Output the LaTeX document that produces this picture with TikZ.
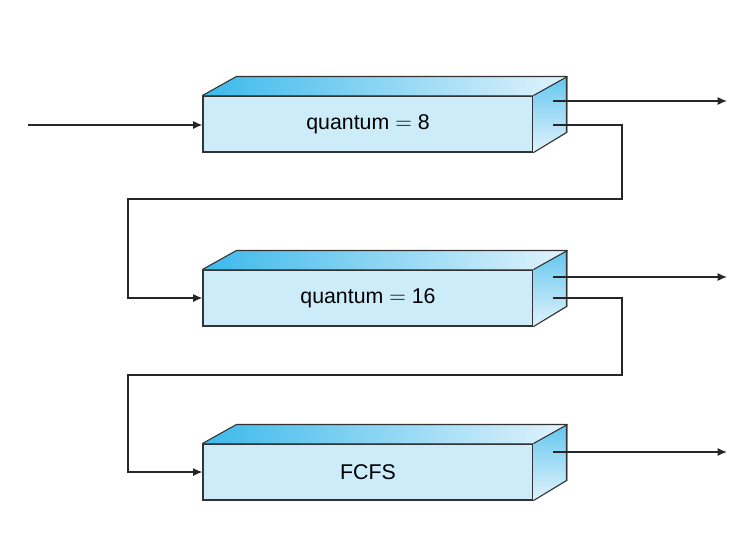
\documentclass[tikz,border=0pt]{standalone}
\usepackage{fontspec}
\setmainfont{Liberation Sans}
\usetikzlibrary{calc,arrows.meta}
\definecolor{frontblue}{RGB}{205,236,250}
\definecolor{deepblue}{RGB}{60,185,235}
\definecolor{paleblue}{RGB}{225,243,252}
\newcommand{\QueueBox}[3]% #1=name, #2=top of front face, #3=label
{\node[queue] (#1) at (368,#2+28) {#3};
    \fill[left color=deepblue, right color=paleblue] (#1.north west) -- ++(34,-19) -- ++(330,0) -- (#1.north east) -- cycle;
    \fill[top color=deepblue!80, bottom color=paleblue] (#1.north east) -- ++(34,-19) -- ++(0,56) -- (#1.south east) -- cycle;
    \draw[edge] (#1.north west) -- ++(34,-19) -- ++(330,0) -- ++(0,56) -- (#1.south east);
    \draw[edge] (#1.north east) -- ++(34,-19);
}
\begin{document}
\begin{tikzpicture}[x=0.75pt,y=-0.75pt,
    queue/.style={draw=black!80, fill=frontblue, thick, minimum width=247.5pt,
      minimum height=42pt, inner sep=0pt, font=\fontsize{16}{18}\selectfont},
    edge/.style={draw=black!80, thick},
    flow/.style={draw=black!85, line width=1.1pt, -{Latex[length=7pt,width=6pt]}}]
  \useasboundingbox (0,0) rectangle (755,537);
  \QueueBox{q8}{96}{quantum $=$ 8}
  \QueueBox{q16}{270}{quantum $=$ 16}
  \QueueBox{fcfs}{444}{FCFS}
  % entry and exits
  \coordinate (in)   at (28,125);
  \coordinate (out1) at (727,101);
  \coordinate (out2) at (727,277);
  \coordinate (out3) at (727,452);
  \draw[flow] (in) -- (q8.west |- in);
  \draw[flow] (553,101) -- (out1);
  \draw[flow] (553,277) -- (out2);
  \draw[flow] (553,452) -- (out3);
  % demotion paths
  \draw[flow] (553,125) -| (622,199) -| (128,298) -- (q16.west |- 0,298);
  \draw[flow] (553,298) -| (622,375) -| (128,472) -- (fcfs.west |- 0,472);
\end{tikzpicture}
\end{document}
